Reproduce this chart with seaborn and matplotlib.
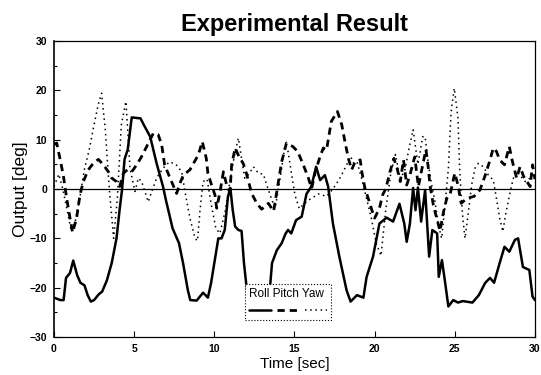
import numpy as np
import pandas as pd
import matplotlib
matplotlib.use("Agg")
import matplotlib.pyplot as plt
import seaborn as sns
from matplotlib.ticker import MultipleLocator
from matplotlib.lines import Line2D

# ---- data ----
roll_t = [0, 0.4, 0.6, 0.75, 1.0, 1.2, 1.45, 1.65, 1.9, 2.1, 2.3, 2.5, 2.8, 3.0, 3.3, 3.6, 3.9, 4.1,
          4.25, 4.4, 4.6, 4.85, 5.4, 5.6, 6.0, 6.4, 6.8, 7.0, 7.4, 7.8, 8.05, 8.35, 8.5, 8.9, 9.3, 9.6,
          9.8, 10.0, 10.25, 10.45, 10.65, 10.85, 11.0, 11.15, 11.3, 11.5, 11.7, 11.85, 12.05, 12.3,
          12.6, 13.0, 13.4, 13.6, 13.9, 14.2, 14.45, 14.6, 14.8, 15.1, 15.45, 15.75, 16.05, 16.35,
          16.6, 16.9, 17.1, 17.4, 17.8, 18.25, 18.5, 18.9, 19.3, 19.5, 19.9, 20.3, 20.75, 21.15,
          21.55, 21.85, 22.0, 22.2, 22.4, 22.55, 22.7, 22.9, 23.15, 23.4, 23.6, 23.9, 24.0, 24.2,
          24.4, 24.6, 24.9, 25.2, 25.5, 26.1, 26.5, 26.9, 27.2, 27.45, 27.8, 28.1, 28.4, 28.75,
          28.95, 29.25, 29.65, 29.85, 30.0]
roll_v = [-22, -22.5, -22.5, -18, -17, -14.5, -17.5, -19, -19.5, -21.5, -22.8, -22.5, -21.3, -20.8,
          -18.5, -15, -10, -4, 0, 6, 8, 14.5, 14.3, 13, 10.6, 5.2, 0.5, -2.5, -8, -11, -15, -20.5,
          -22.5, -22.6, -21, -22, -19, -15, -10, -10, -8.3, -1.6, 0.2, -4.3, -7.6, -8.3, -8.5, -15,
          -21, -23.3, -23, -22.8, -22.8, -15, -12.4, -11, -9, -8.3, -9, -6.3, -5.6, -1, 0.5, 4.5,
          1.8, 2.8, 0.5, -7, -13.7, -20.5, -22.8, -21.5, -22, -17.8, -13.7, -7, -5.8, -6.6, -3,
          -7, -10.7, -7, 0.2, -4.3, 0.3, -6.6, -0.2, -13.7, -8.3, -9, -17.8, -14.4, -19, -23.8,
          -22.5, -23, -22.7, -23, -21.5, -19, -18, -19, -15, -11.7, -12.7, -10.3, -10, -15.8,
          -16.4, -21.8, -22.5]

pitch_t = [0, 0.17, 0.37, 0.58, 0.79, 1.0, 1.16, 1.41, 1.62, 1.83, 2.14, 2.45, 2.77, 3.08, 3.39,
           3.6, 3.9, 4.1, 4.33, 4.58, 4.85, 5.16, 5.47, 5.78, 6.2, 6.5, 6.72, 6.9, 7.24, 7.65,
           7.86, 8.07, 8.48, 9.0, 9.25, 9.5, 9.6, 9.83, 10.04, 10.15, 10.36, 10.57, 10.77, 10.98,
           11.08, 11.3, 11.55, 11.8, 12.0, 12.33, 12.65, 12.95, 13.37, 13.7, 13.9, 14.1, 14.2,
           14.5, 14.9, 15.2, 15.55, 15.87, 16.07, 16.3, 16.6, 16.8, 17.0, 17.3, 17.68, 17.95,
           18.15, 18.36, 18.57, 18.78, 19.1, 19.2, 19.4, 19.6, 19.86, 20.0, 20.3, 20.5, 20.7,
           20.96, 21.2, 21.4, 21.6, 21.8, 22.0, 22.2, 22.5, 22.73, 22.94, 23.2, 23.35, 23.45,
           23.66, 23.87, 24.08, 24.3, 24.5, 24.7, 25.0, 25.2, 25.4, 25.75, 26.2, 26.57, 26.9,
           27.2, 27.4, 27.6, 27.8, 28.1, 28.4, 28.6, 28.86, 29.07, 29.3, 29.5, 29.7, 29.85, 30.0]
pitch_v = [9, 9.3, 6.2, 2.8, -1.9, -5.9, -8.8, -5.9, -1.2, 1.5, 3.9, 5.2, 6, 4.9, 3.5, 2.2, 1.5,
           0.5, 3.2, 3.9, 3.5, 4.9, 6.6, 8.6, 11.3, 11, 8.9, 4.9, 2.2, -0.9, 1.2, 2.8, 3.9, 6.9,
           9.6, 6.2, 3.2, 0.8, -1.2, -3.9, -0.5, 3.5, 0.8, -0.5, 4.9, 8.3, 6.5, 5.2, 3.2, -0.9,
           -2.9, -4.1, -2.9, -4.5, -0.5, 3.5, 5.5, 9.3, 8.6, 7.6, 4.9, 2.2, 0.1, 3.5, 6.6, 8.3,
           7.9, 13.7, 15.7, 13, 9.6, 6.2, 3.9, 5.5, 5.9, 3.5, 0.1, -1.9, -4.6, -5.9, -3.9, -1.2,
           0.1, 3.5, 6.2, 4.2, 1.5, 5.9, 0.8, 2.8, 6.5, 0.5, 3.9, 8, 4.2, 0.8, -3.2, -5.9, -8.5,
           -4.6, -1.9, -1.2, 3.2, 0.8, -2.9, -1.9, -1.5, -0.2, 2.8, 5.9, 8.3, 7.6, 5.9, 4.9, 8.6,
           5.5, 2.2, 4.5, 2.5, 1.5, 0.5, 4.9, 2]

yaw_t = [0, 0.3, 0.55, 0.8, 1.05, 1.3, 1.6, 1.9, 2.2, 2.5, 2.75, 2.97, 3.2, 3.45, 3.72, 3.95, 4.2,
         4.49, 4.74, 5.05, 5.26, 5.47, 5.88, 6.1, 6.4, 6.8, 7.2, 7.6, 7.97, 8.17, 8.48, 8.8, 8.95,
         9.1, 9.3, 9.55, 9.8, 10.1, 10.35, 10.67, 11.0, 11.3, 11.5, 11.7, 11.9, 12.15, 12.44,
         12.75, 13.06, 13.27, 13.48, 13.79, 14.0, 14.2, 14.41, 14.6, 14.83, 15.03, 15.3, 15.6,
         16.0, 16.5, 17.0, 17.4, 17.8, 18.15, 18.5, 18.7, 18.9, 19.2, 19.5, 19.8, 20.1, 20.4,
         20.7, 21.0, 21.3, 21.6, 21.9, 22.15, 22.4, 22.7, 23.0, 23.15, 23.35, 23.56, 23.77,
         23.98, 24.18, 24.4, 24.6, 24.77, 24.97, 25.2, 25.3, 25.4, 25.5, 25.64, 25.85, 26.05,
         26.26, 26.47, 26.78, 27.1, 27.4, 27.6, 27.8, 28.0, 28.2, 28.55, 28.76, 29.0, 29.4,
         29.7, 30.0]
yaw_v = [0.5, 3, 0, -4, -8, -7, -2, 4, 8, 13, 17, 19.4, 12, 0, -10, -2, 13, 17.7, 4.2, -0.5, 2.2,
         1.5, -2.6, -0.5, 2.2, 4.2, 5.5, 5, 3.5, -0.5, -5.9, -10, -10.5, -4.6, 1.5, 2, -3, -8,
         -9, -4.6, 2, 7.6, 10.3, 6.2, 2.2, 3, 4.5, 3.2, 3, 0.8, -1.2, -3.9, 0, 4.2, 8.9, 7.6, 2.8,
         -1.2, -4, -3, -2, -1, -1.5, 0, 2, 4.2, 6.6, 5.2, 5.5, 2, -2, -6, -11, -13.5, -4, 3, 7,
         2, 4, 8.3, 12, 5, 10.6, 10.6, 5, 0.8, -2.6, -7.3, -10, -3, 4.2, 15.7, 20.4, 14.3, 4.2,
         -1.2, -5.9, -10, -4.6, 0.8, 4.2, 5.2, 4.5, 2.8, 1.8, -1.9, -5.9, -8.6, -4.6, 0.8, 3.5,
         3, 1.5, 2.2, 3.5]

series_names = ["Roll", "Pitch", "Yaw"]
x_ticks = [0, 5, 10, 15, 20, 25, 30]
y_ticks = [-30, -20, -10, 0, 10, 20, 30]

# ---- style ----
sns.set_style("ticks")
plt.rcParams["font.family"] = ["Liberation Sans", "DejaVu Sans"]
plt.rcParams["text.color"] = "black"
plt.rcParams["axes.labelcolor"] = "black"
plt.rcParams["xtick.color"] = "black"
plt.rcParams["ytick.color"] = "black"
plt.rcParams["axes.edgecolor"] = "black"

fig = plt.figure(figsize=(5.41, 3.75), dpi=100)
ax = fig.add_axes([0.0998, 0.101, 0.889, 0.790])

ax.axhline(0, color="black", lw=0.9, zorder=1)

sns.lineplot(x=yaw_t, y=yaw_v, ax=ax, color="black", lw=1.1, linestyle=(0, (1, 2.4)), sort=False)
sns.lineplot(x=pitch_t, y=pitch_v, ax=ax, color="black", lw=2.0, linestyle=(0, (2.6, 1.8)), sort=False)
sns.lineplot(x=roll_t, y=roll_v, ax=ax, color="black", lw=1.8, linestyle="-", sort=False)

ax.set_xlim(0, 30)
ax.set_ylim(-30, 30)
ax.set_xticks(x_ticks)
ax.set_yticks(y_ticks)
ax.yaxis.set_minor_locator(MultipleLocator(5))
ax.tick_params(axis="both", which="both", direction="in", color="black", labelcolor="black")
ax.tick_params(axis="both", which="major", length=4, width=0.8, labelsize=7.5, pad=5)
ax.tick_params(axis="y", which="minor", length=2.5, width=0.8)
for lab in ax.get_xticklabels() + ax.get_yticklabels():
    lab.set_fontweight("bold")

for sp in ax.spines.values():
    sp.set_color("black")
    sp.set_linewidth(0.9)
ax.spines["left"].set_linewidth(1.2)

ax.set_title("Experimental Result", fontsize=17, fontweight="bold", pad=7, color="black")
ax.set_xlabel("Time [sec]", fontsize=11, labelpad=2, color="black")
ax.set_ylabel("Output [deg]", fontsize=12.5, labelpad=1, color="black")

handles = [
    Line2D([], [], color="black", lw=1.8, linestyle="-"),
    Line2D([], [], color="black", lw=2.0, linestyle=(0, (2.6, 1.8))),
    Line2D([], [], color="black", lw=1.1, linestyle=(0, (1, 2.4))),
]
leg = ax.legend(handles, ["", "", ""], ncol=3, title=" ".join(series_names),
                title_fontsize=8.5, prop={"size": 8}, loc="lower left",
                bbox_to_anchor=(0.385, 0.04),
                handlelength=2.0, handletextpad=0.0, columnspacing=0.55,
                borderpad=0.35, frameon=True, fancybox=False, framealpha=1)
leg.get_frame().set_linestyle(":")
leg.get_frame().set_edgecolor("black")
leg.get_frame().set_linewidth(0.8)
leg.get_title().set_color("black")
leg._legend_box.align = "left"

fig.savefig("out.png", dpi=100)
